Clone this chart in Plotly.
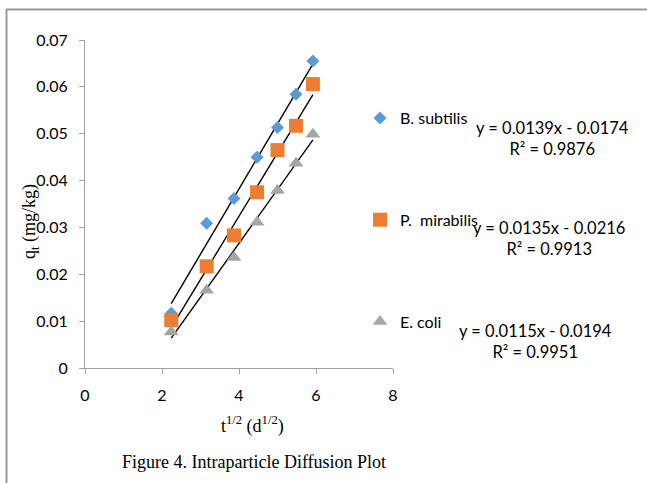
import plotly.graph_objects as go

# ---- data ----
t_sqrt = [2.24, 3.16, 3.87, 4.47, 5.00, 5.48, 5.92]
series_names = ["B. subtilis", "P.  mirabilis", "E. coli"]
b_subtilis = [0.0117, 0.0309, 0.0362, 0.0450, 0.0513, 0.0584, 0.0655]
p_mirabilis = [0.0102, 0.0217, 0.0283, 0.0375, 0.0465, 0.0517, 0.0606]
e_coli = [0.0077, 0.0166, 0.0236, 0.0311, 0.0379, 0.0437, 0.0499]
slopes = [0.0139, 0.0135, 0.0115]
intercepts = [-0.0174, -0.0216, -0.0194]
r2_values = [0.9876, 0.9913, 0.9951]
x_ticks = [0, 2, 4, 6, 8]
y_ticks = [0, 0.01, 0.02, 0.03, 0.04, 0.05, 0.06, 0.07]

colors = ["#5B9BD5", "#ED7D31", "#A5A5A5"]
symbols = ["diamond", "square", "triangle-up"]
sizes = [10, 14, 13]
values = [b_subtilis, p_mirabilis, e_coli]

W, H = 647, 483
L, R, T, B = 85, 254, 40, 115
pw, ph = W - L - R, H - T - B

def px_x(p):
    return (p - L) / pw

def px_y(p):
    return (H - B - p) / ph

fig = go.Figure()

# trendlines
x0, x1 = min(t_sqrt), max(t_sqrt)
for i in range(3):
    fig.add_trace(go.Scatter(
        x=[x0, x1], y=[slopes[i] * x0 + intercepts[i], slopes[i] * x1 + intercepts[i]],
        mode="lines", line=dict(color="black", width=1.4),
        showlegend=False, hoverinfo="skip"))

for i in range(3):
    fig.add_trace(go.Scatter(
        x=t_sqrt, y=values[i], mode="markers", name=series_names[i],
        legendgroup=str(i),
        marker=dict(symbol=symbols[i], size=sizes[i], color=colors[i], line=dict(width=0)),
        cliponaxis=False))

font_sans = "Lato"
font_serif = "Liberation Serif"

# equation annotations
eq_pos = [(552, 138), (549, 238), (535, 341)]
for i in range(3):
    sign = "-" if intercepts[i] < 0 else "+"
    txt = f"y = {slopes[i]:.4f}x {sign} {abs(intercepts[i]):.4f}<br>R² = {r2_values[i]:.4f}"
    fig.add_annotation(x=px_x(eq_pos[i][0]), y=px_y(eq_pos[i][1]), xref="paper", yref="paper",
                       xanchor="center", yanchor="middle",
                       text=txt, showarrow=False, align="center",
                       font=dict(family=font_sans, size=16.5, color="#000000"))

# axis titles and caption
fig.add_annotation(x=px_x(252), y=px_y(425), xref="paper", yref="paper",
                   xanchor="center", yanchor="middle",
                   text="t<sup>1/2</sup> (d<sup>1/2</sup>)", showarrow=False,
                   font=dict(family=font_serif, size=18, color="#000000"))
fig.add_annotation(x=px_x(30), y=px_y(222), xref="paper", yref="paper",
                   xanchor="center", yanchor="middle",
                   text="q<sub>t</sub> (mg/kg)", showarrow=False, textangle=-90,
                   font=dict(family=font_serif, size=18, color="#000000"))
fig.add_annotation(x=px_x(254), y=px_y(462), xref="paper", yref="paper",
                   xanchor="center", yanchor="middle",
                   text="Figure 4. Intraparticle Diffusion Plot", showarrow=False,
                   font=dict(family=font_serif, size=18, color="#000000"))

# outer frame (top and left)
fig.add_shape(type="line", xref="paper", yref="paper", x0=px_x(6), x1=px_x(647),
              y0=px_y(9.5), y1=px_y(9.5), line=dict(color="#9a9a9a", width=2))
fig.add_shape(type="line", xref="paper", yref="paper", x0=px_x(6.5), x1=px_x(6.5),
              y0=px_y(9), y1=px_y(483), line=dict(color="#9a9a9a", width=2))

axis_common = dict(showgrid=False, zeroline=False, showline=True, linecolor="#A0A0A0",
                   linewidth=1, ticks="outside", ticklen=5, tickcolor="#A0A0A0",
                   tickfont=dict(family=font_sans, size=16, color="#000000"))

fig.update_xaxes(range=[0, 8], tickvals=x_ticks, ticktext=[str(v) for v in x_ticks],
                 ticklabelstandoff=8, **axis_common)
fig.update_yaxes(range=[0, 0.07], tickvals=y_ticks,
                 ticktext=["0" if v == 0 else f"{v:.2f}" for v in y_ticks],
                 ticklabelstandoff=8, **axis_common)

fig.update_layout(
    width=W, height=H, autosize=False,
    margin=dict(l=L, r=R, t=T, b=B, pad=0),
    paper_bgcolor="white", plot_bgcolor="white",
    showlegend=True,
    legend=dict(x=px_x(360), y=px_y(101), xanchor="left", yanchor="top",
                font=dict(family=font_sans, size=16, color="#000000"),
                tracegroupgap=78, bgcolor="rgba(0,0,0,0)", itemwidth=30),
)

fig.write_html("out.html", config={"displayModeBar": False},
               post_script="document.body.style.margin='0';")
